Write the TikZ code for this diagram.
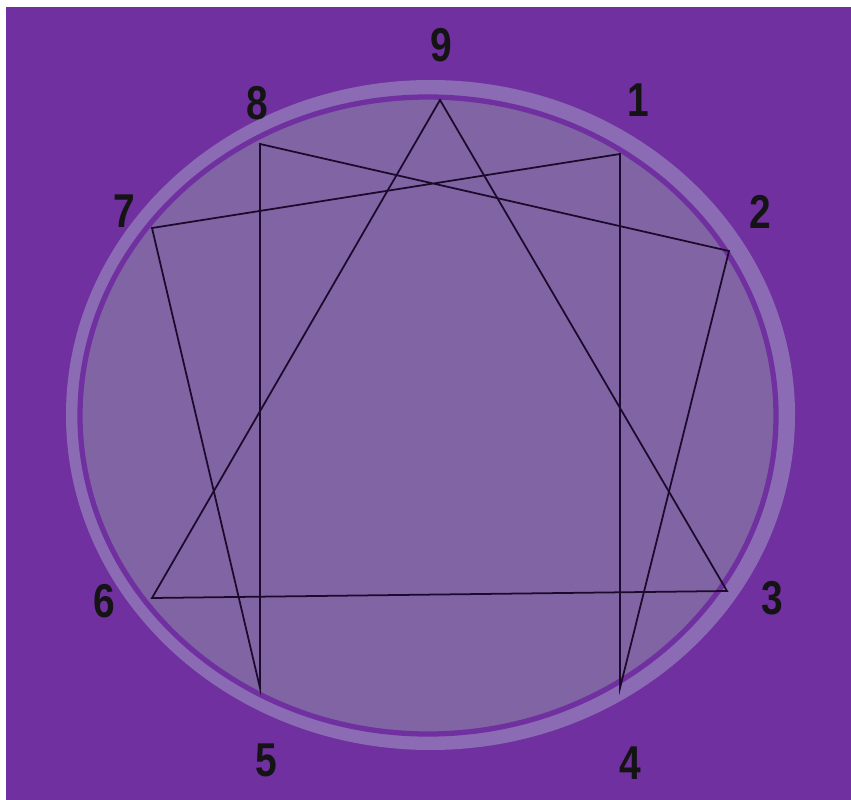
\documentclass[tikz,border=0pt]{standalone}
\usepackage{fontspec}
\setmainfont{Liberation Sans}
\usepackage{xcolor}
\definecolor{bgpurple}{HTML}{7030A0}
\definecolor{bandlight}{HTML}{8B6CB4}
\definecolor{discfill}{HTML}{8064A4}
\definecolor{linedark}{HTML}{1C0A2C}

\begin{document}
\begin{tikzpicture}[x=0.01cm, y=-0.01cm,
    num/.style={font=\fontsize{13.5}{15}\selectfont\bfseries, text=black!92,
                inner sep=0pt, xscale=0.82, transform shape},
    star/.style={draw=linedark, line width=0.5pt}]
    \useasboundingbox (0,0) rectangle (851,800);
    \fill[white] (0,0) rectangle (851,800);
    \fill[bgpurple] (6,7) rectangle (851,800);
    % outer band, ring and disc
    \fill[bandlight] (430.5,415) ellipse [x radius=364.5, y radius=335];
    \filldraw[fill=discfill, draw=bgpurple, line width=1.5pt]
        (428,415.5) ellipse [x radius=348, y radius=318.5];
    % points of the figure
    \coordinate (p9) at (440,100);
    \coordinate (p1) at (620,154);
    \coordinate (p2) at (729,251);
    \coordinate (p3) at (727,591);
    \coordinate (p4) at (620,688);
    \coordinate (p5) at (260,688);
    \coordinate (p6) at (152,598);
    \coordinate (p7) at (152,228);
    \coordinate (p8) at (260,144);
    % labels
    \foreach \n/\x/\y in {9/441/45, 1/638/100, 2/760/212, 3/772/598,
                          4/630/763, 5/266/760, 6/104/601, 7/124/211, 8/257/103} {
        \node[num] (l\n) at (\x,\y) {\n};
    }
    % triangle and hexad
    \draw[star] (p9) -- (p3) -- (p6) -- cycle;
    \draw[star] (p1) -- (p4) -- (p2) -- (p8) -- (p5) -- (p7) -- cycle;
\end{tikzpicture}
\end{document}
